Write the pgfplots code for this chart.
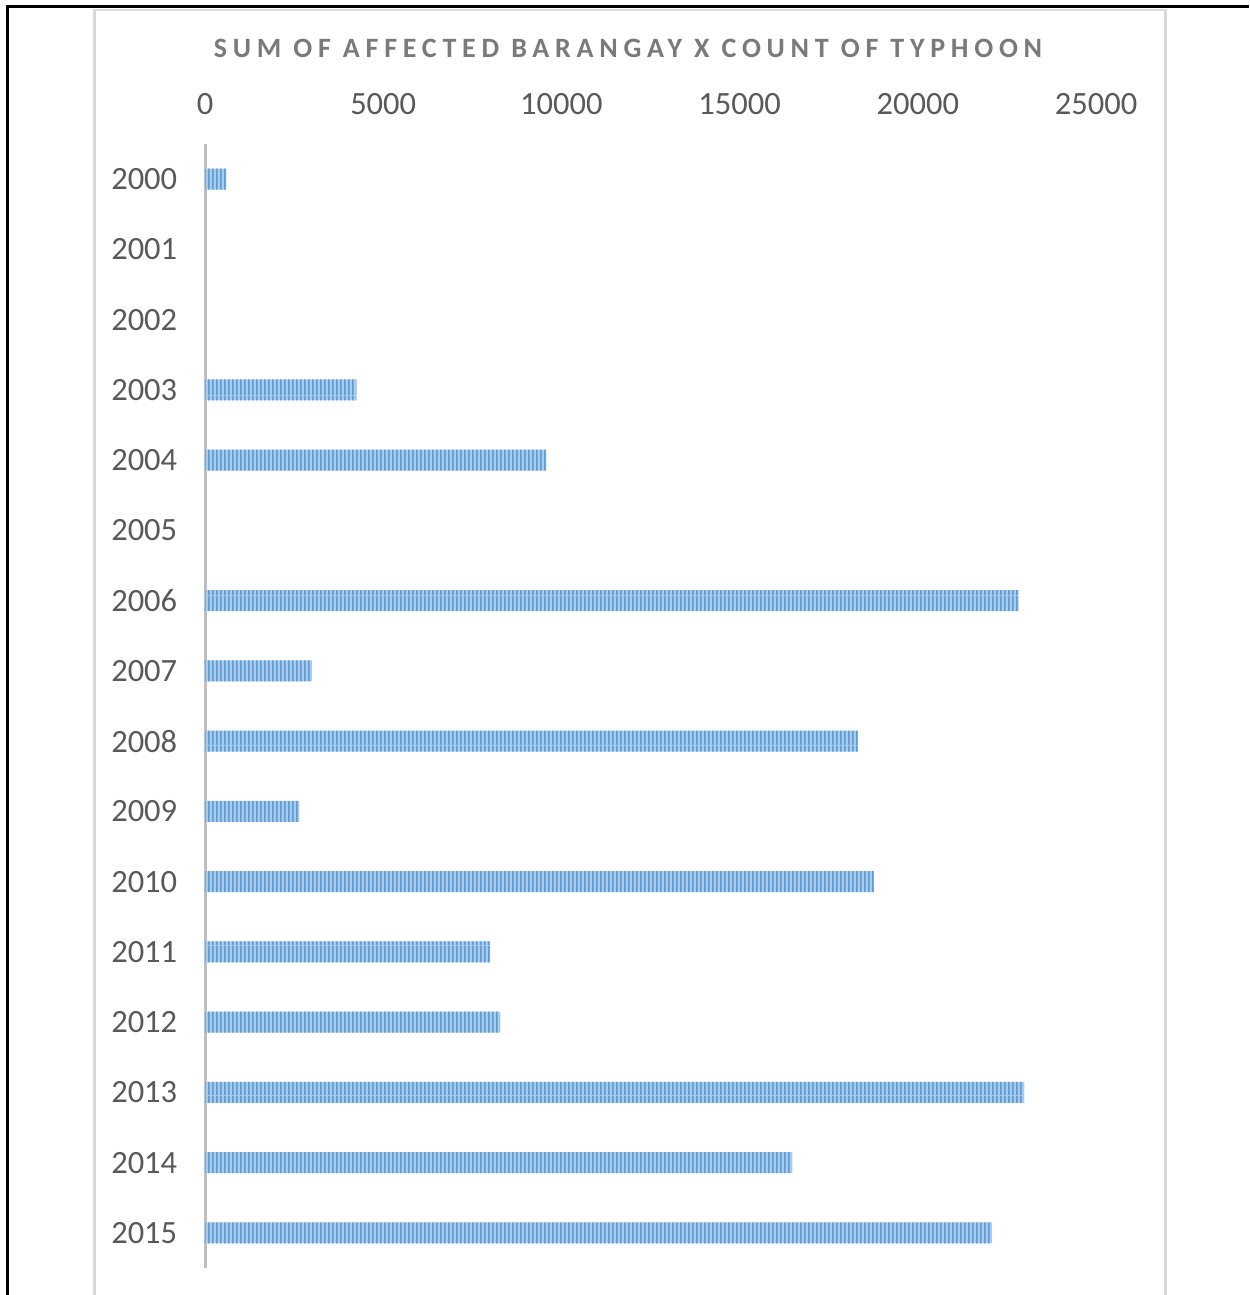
\documentclass[border=0pt]{standalone}
\usepackage{pgfplots}
\pgfplotsset{compat=1.18}
\usepackage{fontspec}
\setmainfont{Carlito}
\usetikzlibrary{patterns.meta}
\definecolor{bardark}{HTML}{5B9BD5}
\definecolor{barlight}{HTML}{A9CBEB}
\definecolor{ticktext}{HTML}{595959}
\definecolor{titletext}{HTML}{7A7A7A}
\definecolor{axisgray}{HTML}{BFBFBF}
\definecolor{framegray}{HTML}{D9D9D9}
\tikzdeclarepattern{
  name=vstripes,
  type=uncolored,
  bounding box={(0pt,0pt) and (1.6pt,20pt)},
  tile size={(1.6pt,20pt)},
  code={\pgfpathrectangle{\pgfpointorigin}{\pgfpoint{0.8pt}{20pt}}\pgfusepath{fill}}
}
\begin{document}
\begin{tikzpicture}
\useasboundingbox (0pt,0pt) rectangle (499.6pt,-518pt);
\draw[framegray, line width=0.9pt] (37.8pt,-518pt) -- (37.8pt,-3.92pt) -- (466.2pt,-3.92pt) -- (466.2pt,-518pt);
\draw[black, line width=1.2pt] (2.8pt,-518pt) -- (2.8pt,-2.8pt) -- (499.6pt,-2.8pt);
\node[font=\bfseries\fontsize{11.2}{13}\selectfont\addfontfeature{LetterSpace=20.5}, text=titletext] at (251.2pt,-19.2pt) {SUM OF AFFECTED BARANGAY X COUNT OF TYPHOON};
\begin{axis}[
  at={(82pt,-507.2pt)}, anchor=south west,
  width=356.4pt, height=449.6pt, scale only axis,
  xmin=0, xmax=25000, ymin=-0.5, ymax=15.5,
  axis x line*=top, axis y line*=left,
  x axis line style={draw=none},
  y axis line style={draw=axisgray, line width=1.2pt},
  xtick={0,5000,10000,15000,20000,25000},
  scaled x ticks=false,
  ytick={0,...,15},
  yticklabels={2015,2014,2013,2012,2011,2010,2009,2008,2007,2006,2005,2004,2003,2002,2001,2000},
  major tick length=0pt,
  tick label style={text=ticktext, font=\fontsize{13}{15}\selectfont},
  /pgf/number format/assume math mode=true,
  /pgf/number format/set thousands separator={},
  /pgf/number format/fixed,
  xticklabel style={yshift=8.2pt},
  yticklabel style={xshift=-7.6pt},
]
\addplot[xbar, bar width=8.4pt, fill=barlight, draw=none,
  postaction={pattern=vstripes, pattern color=bardark}]
  coordinates {
    (600,15) (4250,12) (9580,11) (22830,9) (3000,8) (18320,7)
    (2650,6) (18770,5) (8000,4) (8280,3) (22980,2) (16470,1) (22080,0)
  };
\end{axis}
\end{tikzpicture}
\end{document}
